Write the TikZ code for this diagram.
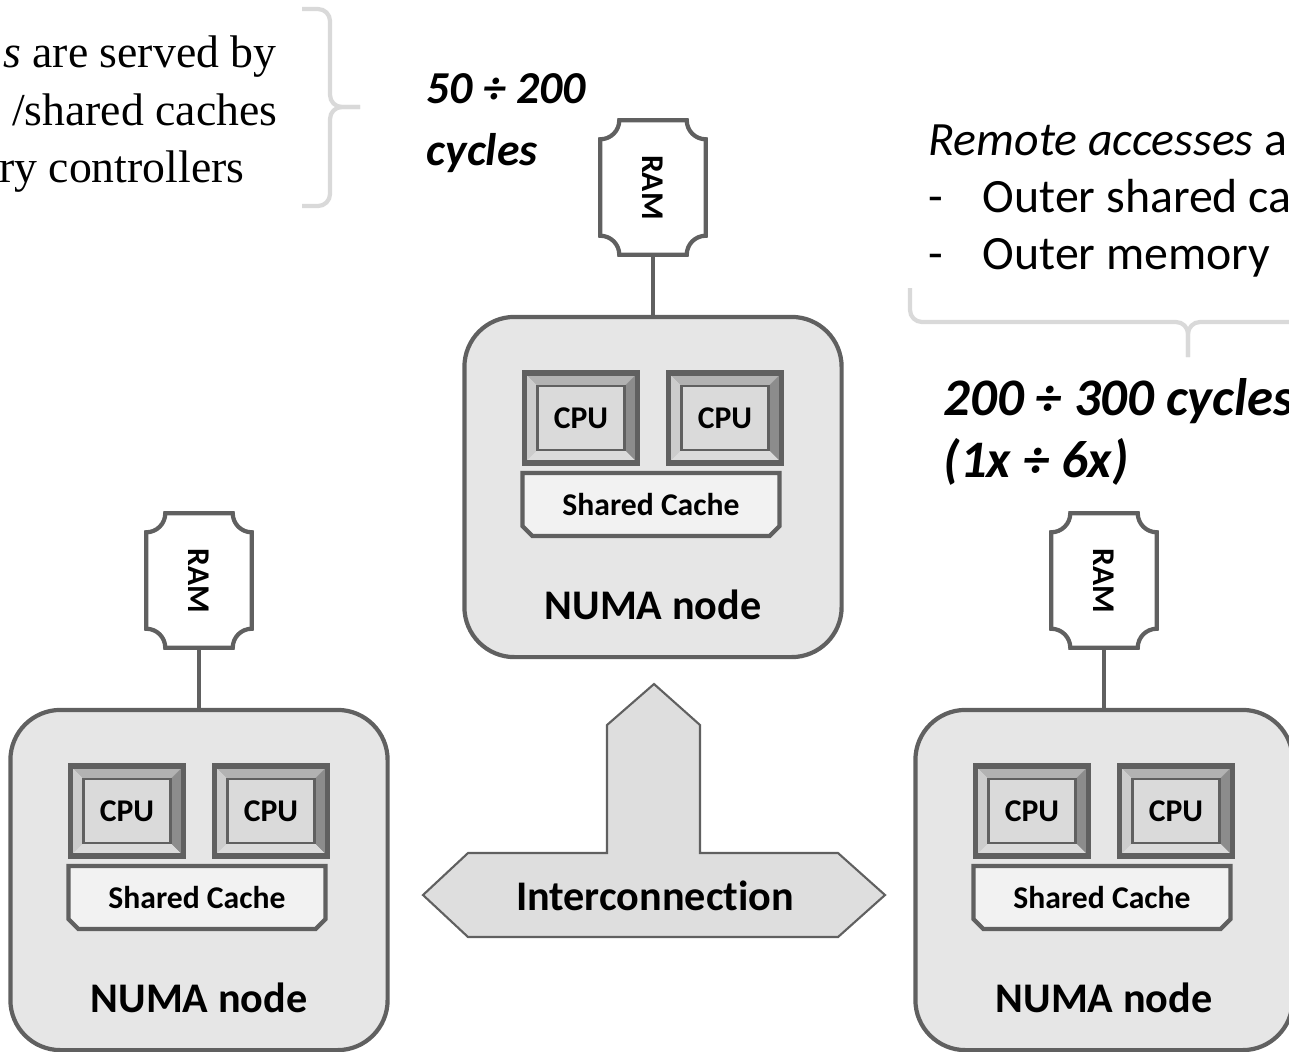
\documentclass[tikz,border=0pt]{standalone}
\usepackage{fontspec}
\setmainfont{Carlito}[Ligatures=NoCommon]
\newfontfamily\timesfont{Liberation Serif}
\usepackage{graphicx}
\usetikzlibrary{shapes.misc}

\definecolor{framegray}{HTML}{606060}
\definecolor{nodefill}{HTML}{E6E6E6}
\definecolor{cachefill}{HTML}{F2F2F2}
\definecolor{cpuface}{HTML}{DADADA}
\definecolor{bracegray}{HTML}{D9D9D9}
\definecolor{busfill}{HTML}{DEDEDE}

\def\ppbb{path picture bounding box}
% concave corners round a RAM node
\newcommand{\ramframe}[1]{%
  \draw[framegray,line width=1.2pt]
    ([xshift=-0.19cm]#1.north east)
      .. controls ([shift={(-0.19cm,-0.105cm)}]#1.north east) and ([shift={(-0.105cm,-0.19cm)}]#1.north east) .. ([yshift=-0.19cm]#1.north east)
    -- ([yshift=0.19cm]#1.south east)
      .. controls ([shift={(-0.105cm,0.19cm)}]#1.south east) and ([shift={(-0.19cm,0.105cm)}]#1.south east) .. ([xshift=-0.19cm]#1.south east)
    -- ([xshift=0.19cm]#1.south west)
      .. controls ([shift={(0.19cm,0.105cm)}]#1.south west) and ([shift={(0.105cm,0.19cm)}]#1.south west) .. ([yshift=0.19cm]#1.south west)
    -- ([yshift=-0.19cm]#1.north west)
      .. controls ([shift={(0.105cm,-0.19cm)}]#1.north west) and ([shift={(0.19cm,-0.105cm)}]#1.north west) .. ([xshift=0.19cm]#1.north west)
    -- cycle;}

\tikzset{
  numa/.style={draw=framegray, line width=1.2pt, fill=nodefill, rounded corners=0.5cm,
    minimum width=3.77cm, minimum height=3.4cm},
  numalbl/.style={inner sep=0pt, font=\bfseries\fontsize{12}{14}\selectfont},
  cpu/.style={draw=framegray, line width=1.5pt, fill=cpuface, inner sep=0pt,
    minimum width=1.13cm, minimum height=0.9cm, font=\bfseries\fontsize{9}{10}\selectfont,
    path picture={
      \fill[black!30] (\ppbb.north west) -- (\ppbb.north east) -- ([shift={(-0.13cm,-0.13cm)}]\ppbb.north east) -- ([shift={(0.13cm,-0.13cm)}]\ppbb.north west) -- cycle;
      \fill[black!20] (\ppbb.north west) -- (\ppbb.south west) -- ([shift={(0.13cm,0.13cm)}]\ppbb.south west) -- ([shift={(0.13cm,-0.13cm)}]\ppbb.north west) -- cycle;
      \fill[black!45] (\ppbb.north east) -- (\ppbb.south east) -- ([shift={(-0.13cm,0.13cm)}]\ppbb.south east) -- ([shift={(-0.13cm,-0.13cm)}]\ppbb.north east) -- cycle;
      \fill[black!14] (\ppbb.south west) -- (\ppbb.south east) -- ([shift={(-0.13cm,0.13cm)}]\ppbb.south east) -- ([shift={(0.13cm,0.13cm)}]\ppbb.south west) -- cycle;
      \draw[framegray, line width=0.8pt] ([shift={(0.13cm,0.13cm)}]\ppbb.south west) rectangle ([shift={(-0.13cm,-0.13cm)}]\ppbb.north east);
    }},
  cache/.style={chamfered rectangle, chamfered rectangle corners={south west,south east},
    chamfered rectangle xsep=0.05cm, chamfered rectangle ysep=0.05cm,
    draw=framegray, line width=1.2pt, fill=cachefill,
    inner sep=0pt, minimum width=2.57cm, minimum height=0.63cm,
    font=\bfseries\fontsize{9}{10}\selectfont},
  ram/.style={inner sep=0pt, minimum width=1.04cm, minimum height=1.33cm,
    font=\bfseries\fontsize{9}{10}\selectfont},
  link/.style={draw=framegray, line width=1.2pt},
  bus/.style={draw=framegray, line width=0.6pt, fill=busfill},
  gbrace/.style={draw=bracegray, line width=1.2pt, rounded corners=0.12cm},
  cyc/.style={inner sep=0pt, anchor=base west, font=\bfseries\itshape\fontsize{13}{16}\selectfont},
  cycbig/.style={cyc, font=\bfseries\itshape\fontsize{15}{18}\selectfont},
  remtxt/.style={inner sep=0pt, anchor=base west, font=\fontsize{13.6}{16}\selectfont},
  loctxt/.style={inner sep=0pt, anchor=base east, font=\timesfont\fontsize{13}{16}\selectfont}
}

\begin{document}
\begin{tikzpicture}[x=0.01cm, y=-0.01cm]
  \useasboundingbox (0,0) rectangle (1289,1051);

  % three NUMA nodes with their RAM
  \foreach \n/\x/\y in {L/199/880, C/653/487, R/1104/880}{
    \node[numa] (numa\n) at (\x,\y) {};
    \node[cpu] (cpu\n1) at ([shift={(-72,-69)}]numa\n.center) {CPU};
    \node[cpu] (cpu\n2) at ([shift={(72,-69)}]numa\n.center) {CPU};
    \node[cache] (cache\n) at ([shift={(-2,17.5)}]numa\n.center) {Shared Cache};
    \node[numalbl] (lbl\n) at ([shift={(0,118)}]numa\n.center) {NUMA node};
    \node[ram] (ram\n) at ([shift={(0,-299.5)}]numa\n.center) {\rotatebox{-90}{RAM}};
    \ramframe{ram\n}
    \draw[link] (ram\n) -- (numa\n);
  }

  % interconnection
  \draw[bus] (654,684) -- (700,725) -- (700,853) -- (838,853) -- (885,895) -- (838,937)
    -- (468,937) -- (423,895) -- (468,853) -- (607,853) -- (607,725) -- cycle;
  \node[font=\bfseries\fontsize{12}{14}\selectfont] (busl) at (655,896) {Interconnection};

  % local accesses
  \node[loctxt] (loc1) at (277,67) {\textit{s} are served by};
  \node[loctxt] (loc2) at (278,125) {/shared caches};
  \node[loctxt] (loc3) at (245,182) {ry controllers};
  \draw[gbrace] (302,9) -- (330,9) -- (330,107) -- (360,107);
  \draw[gbrace] (360,107) -- (330,107) -- (330,206) -- (302,206);
  \node[cyc] (lat1) at (426,103) {50 ÷ 200};
  \node[cyc] (lat2) at (426,165) {cycles};

  % remote accesses
  \node[remtxt] (rem1) at (928,155) {\textit{Remote accesses} a};
  \node[remtxt] (rem2d) at (928,212) {-};
  \node[remtxt] (rem2) at (982,212) {Outer shared ca};
  \node[remtxt] (rem3d) at (928,269) {-};
  \node[remtxt] (rem3) at (982,269) {Outer memory};
  \draw[gbrace] (910,288) -- (910,322) -- (1188,322) -- (1188,357);
  \draw[gbrace] (1188,357) -- (1188,322) -- (1300,322);
  \node[cycbig] (lat3) at (943,415) {200 ÷ 300 cycles};
  \node[cycbig] (lat4) at (943,477) {(1x ÷ 6x)};
\end{tikzpicture}
\end{document}
